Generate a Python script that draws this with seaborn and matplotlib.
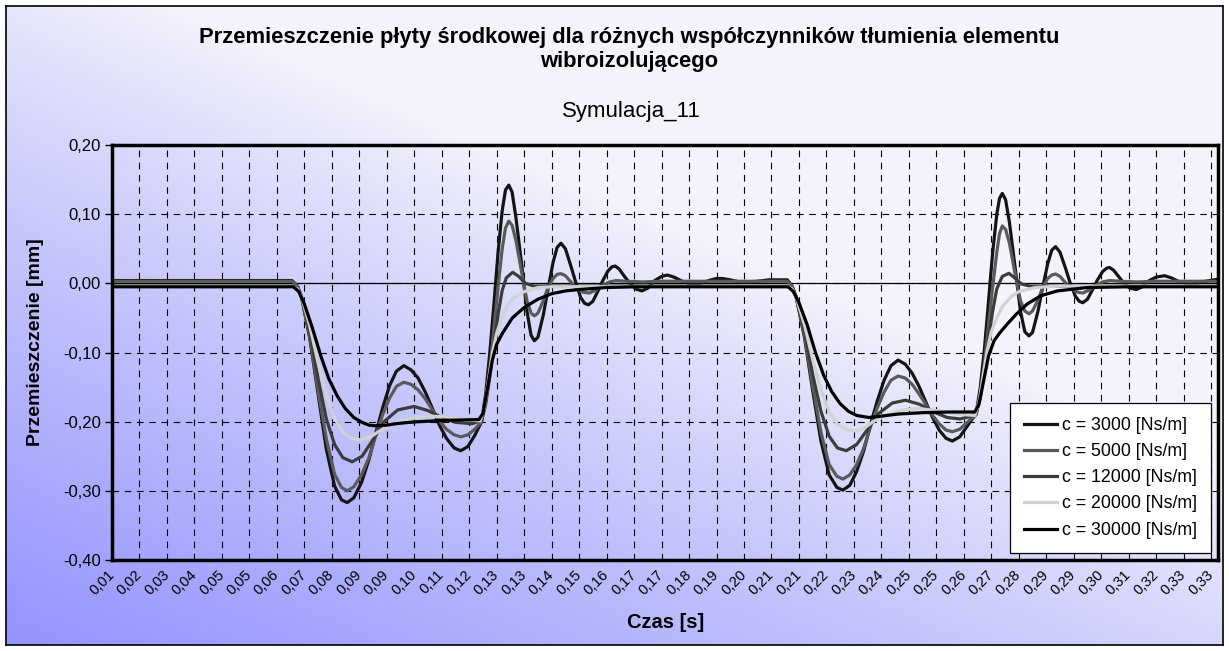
import numpy as np
import pandas as pd
import seaborn as sns
import matplotlib
import matplotlib.pyplot as plt
import matplotlib.transforms as mtransforms

# ------------------------------------------------------------------
# dane (x = pozycja na osi kategorii, y = mm)
# ------------------------------------------------------------------
x_labels = ['0,01', '0,02', '0,03', '0,04', '0,05', '0,05', '0,06', '0,07', '0,08', '0,09',
            '0,09', '0,10', '0,11', '0,12', '0,13', '0,13', '0,14', '0,15', '0,16', '0,17',
            '0,17', '0,18', '0,19', '0,20', '0,21', '0,21', '0,22', '0,23', '0,24', '0,25',
            '0,25', '0,26', '0,27', '0,28', '0,29', '0,29', '0,30', '0,31', '0,32', '0,33', '0,33']

series_names = ['c = 3000 [Ns/m]', 'c = 5000 [Ns/m]', 'c = 12000 [Ns/m]',
                'c = 20000 [Ns/m]', 'c = 30000 [Ns/m]']
series_colors = ['#141414', '#5a5a5a', '#3c3c3c', '#d2d2d2', '#000000']

c3000 = [(0, 0.004), (6.55, 0.004), (6.75, -0.004), (6.9, -0.02), (7.2, -0.08), (7.5, -0.16),
         (7.8, -0.24), (8.1, -0.293), (8.35, -0.313), (8.56, -0.317), (8.8, -0.310), (9.08, -0.288),
         (9.35, -0.255), (9.59, -0.218), (9.85, -0.180), (10.1, -0.148), (10.35, -0.127),
         (10.62, -0.119), (10.88, -0.125), (11.14, -0.137), (11.4, -0.157), (11.65, -0.180),
         (11.9, -0.204), (12.17, -0.224), (12.45, -0.238), (12.69, -0.242), (12.95, -0.236),
         (13.2, -0.220), (13.45, -0.200), (13.6, -0.160), (13.75, -0.100), (13.9, -0.030),
         (14.05, 0.045), (14.2, 0.105), (14.32, 0.135), (14.44, 0.142), (14.56, 0.132),
         (14.7, 0.095), (14.9, 0.030), (15.1, -0.040), (15.25, -0.075), (15.37, -0.083),
         (15.5, -0.078), (15.7, -0.045), (15.85, -0.012), (16.05, 0.030), (16.2, 0.052),
         (16.34, 0.058), (16.5, 0.050), (16.7, 0.025), (16.85, 0.005), (17.05, -0.020),
         (17.2, -0.029), (17.34, -0.031), (17.5, -0.026), (17.7, -0.010), (17.85, 0.003),
         (18.05, 0.018), (18.2, 0.024), (18.31, 0.025), (18.45, 0.021), (18.65, 0.010),
         (18.85, 0.000), (19.05, -0.008), (19.28, -0.011), (19.5, -0.007), (19.75, 0.004),
         (20.0, 0.010), (20.21, 0.012), (20.45, 0.009), (20.75, 0.003), (21.0, 0.000),
         (21.24, -0.001), (21.5, 0.001), (21.8, 0.005), (22.0, 0.007), (22.21, 0.007),
         (22.5, 0.005), (22.85, 0.002), (23.18, 0.0015), (23.5, 0.003), (23.9, 0.005),
         (24.58, 0.005), (24.75, -0.004), (24.9, -0.02), (25.2, -0.078), (25.5, -0.155),
         (25.8, -0.228), (26.1, -0.277), (26.38, -0.295), (26.6, -0.299), (26.85, -0.292),
         (27.1, -0.272), (27.35, -0.243), (27.6, -0.205), (27.85, -0.170), (28.1, -0.140),
         (28.35, -0.119), (28.61, -0.111), (28.87, -0.117), (29.12, -0.130), (29.37, -0.149),
         (29.6, -0.170), (29.85, -0.193), (30.1, -0.212), (30.35, -0.224), (30.58, -0.228),
         (30.85, -0.222), (31.15, -0.205), (31.45, -0.188), (31.6, -0.150), (31.75, -0.095),
         (31.9, -0.025), (32.05, 0.045), (32.2, 0.100), (32.3, 0.123), (32.4, 0.130),
         (32.52, 0.121), (32.66, 0.088), (32.86, 0.025), (33.06, -0.040), (33.22, -0.070),
         (33.37, -0.076), (33.5, -0.071), (33.7, -0.040), (33.85, -0.010), (34.05, 0.028),
         (34.2, 0.048), (34.34, 0.053), (34.5, 0.045), (34.7, 0.022), (34.85, 0.003),
         (35.05, -0.018), (35.2, -0.026), (35.33, -0.028), (35.5, -0.023), (35.7, -0.008),
         (35.85, 0.004), (36.05, 0.017), (36.2, 0.022), (36.3, 0.023), (36.45, 0.019),
         (36.65, 0.009), (36.85, -0.001), (37.05, -0.007), (37.27, -0.009), (37.5, -0.005),
         (37.75, 0.004), (38.0, 0.009), (38.3, 0.011), (38.55, 0.008), (38.85, 0.002),
         (39.2, -0.001), (39.5, 0.000), (39.8, 0.003), (40.25, 0.006)]

c5000 = [(0, 0.003), (6.55, 0.003), (6.75, -0.004), (6.9, -0.02), (7.2, -0.078), (7.5, -0.155),
         (7.8, -0.225), (8.1, -0.276), (8.35, -0.295), (8.56, -0.300), (8.8, -0.294), (9.08, -0.277),
         (9.35, -0.252), (9.59, -0.2215), (9.85, -0.190), (10.1, -0.166), (10.35, -0.149),
         (10.62, -0.143), (10.88, -0.146), (11.14, -0.154), (11.4, -0.167), (11.65, -0.1825),
         (11.9, -0.198), (12.17, -0.211), (12.45, -0.219), (12.69, -0.222), (12.95, -0.219),
         (13.2, -0.211), (13.45, -0.200), (13.6, -0.170), (13.75, -0.125), (13.9, -0.065),
         (14.05, -0.005), (14.2, 0.050), (14.32, 0.080), (14.44, 0.090), (14.56, 0.084),
         (14.7, 0.062), (14.9, 0.018), (15.1, -0.025), (15.25, -0.043), (15.37, -0.047),
         (15.5, -0.043), (15.7, -0.025), (15.85, -0.008), (16.05, 0.007), (16.2, 0.013),
         (16.34, 0.014), (16.5, 0.011), (16.7, 0.002), (16.9, -0.007), (17.15, -0.013),
         (17.37, -0.014), (17.6, -0.010), (17.85, -0.003), (18.1, 0.002), (18.35, 0.004),
         (18.7, 0.003), (19.3, 0.002), (20.0, 0.003), (24.58, 0.003), (24.75, -0.004),
         (24.9, -0.02), (25.2, -0.075), (25.5, -0.148), (25.8, -0.215), (26.1, -0.262),
         (26.38, -0.279), (26.6, -0.283), (26.85, -0.277), (27.1, -0.262), (27.35, -0.239),
         (27.6, -0.208), (27.85, -0.180), (28.1, -0.157), (28.35, -0.140), (28.61, -0.134),
         (28.87, -0.137), (29.12, -0.146), (29.37, -0.160), (29.6, -0.174), (29.85, -0.190),
         (30.1, -0.203), (30.35, -0.212), (30.58, -0.2145), (30.85, -0.211), (31.15, -0.200),
         (31.45, -0.190), (31.6, -0.160), (31.75, -0.115), (31.9, -0.060), (32.05, -0.005),
         (32.2, 0.045), (32.3, 0.072), (32.4, 0.083), (32.52, 0.078), (32.66, 0.058),
         (32.86, 0.015), (33.06, -0.025), (33.22, -0.040), (33.37, -0.044), (33.5, -0.040),
         (33.7, -0.024), (33.85, -0.008), (34.05, 0.007), (34.2, 0.012), (34.34, 0.0135),
         (34.5, 0.010), (34.7, 0.001), (34.9, -0.008), (35.15, -0.013), (35.33, -0.014),
         (35.55, -0.010), (35.8, -0.003), (36.05, 0.002), (36.3, 0.004), (36.7, 0.003),
         (37.3, 0.002), (38.0, 0.003), (40.25, 0.003)]

c12000 = [(0, -0.003), (6.55, -0.003), (6.75, -0.008), (6.9, -0.02), (7.2, -0.07), (7.5, -0.138),
          (7.8, -0.196), (8.1, -0.233), (8.4, -0.252), (8.74, -0.258), (9.1, -0.250), (9.5, -0.226),
          (9.9, -0.200), (10.4, -0.183), (10.99, -0.178), (11.5, -0.184), (12.0, -0.194),
          (12.5, -0.201), (13.11, -0.203), (13.45, -0.198), (13.6, -0.175), (13.75, -0.135),
          (13.9, -0.090), (14.05, -0.045), (14.2, -0.010), (14.35, 0.008), (14.58, 0.016),
          (14.8, 0.010), (15.05, 0.000), (15.35, -0.004), (15.8, -0.004), (24.58, -0.004),
          (24.75, -0.008), (24.9, -0.02), (25.2, -0.068), (25.5, -0.132), (25.8, -0.185),
          (26.1, -0.221), (26.4, -0.238), (26.72, -0.242), (27.1, -0.233), (27.5, -0.211),
          (27.9, -0.188), (28.4, -0.173), (28.88, -0.169), (29.4, -0.175), (29.9, -0.186),
          (30.4, -0.194), (30.85, -0.196), (31.2, -0.193), (31.45, -0.188), (31.6, -0.165),
          (31.75, -0.125), (31.9, -0.080), (32.05, -0.040), (32.2, -0.008), (32.4, 0.010),
          (32.64, 0.0145), (32.85, 0.008), (33.1, -0.001), (33.4, -0.004), (33.9, -0.004),
          (40.25, -0.004)]

c20000 = [(0, -0.004), (6.55, -0.004), (6.75, -0.008), (6.9, -0.02), (7.2, -0.062), (7.5, -0.115),
          (7.8, -0.160), (8.1, -0.195), (8.4, -0.215), (8.7, -0.224), (9.04, -0.2265), (9.4, -0.222),
          (9.8, -0.212), (10.3, -0.202), (10.9, -0.195), (11.5, -0.192), (12.1, -0.193),
          (12.8, -0.197), (13.4, -0.199), (13.55, -0.180), (13.7, -0.140), (13.85, -0.100),
          (14.0, -0.072), (14.2, -0.048), (14.4, -0.032), (14.6, -0.021), (15.0, -0.012),
          (15.5, -0.006), (16.0, -0.005), (24.58, -0.004), (24.75, -0.008), (24.9, -0.02),
          (25.2, -0.06), (25.5, -0.11), (25.8, -0.153), (26.1, -0.186), (26.4, -0.204),
          (26.7, -0.211), (27.0, -0.2135), (27.35, -0.210), (27.7, -0.200), (28.2, -0.190),
          (28.8, -0.183), (29.36, -0.181), (30.0, -0.184), (30.7, -0.189), (31.4, -0.191),
          (31.55, -0.172), (31.7, -0.135), (31.85, -0.097), (32.0, -0.070), (32.2, -0.050),
          (32.4, -0.034), (32.7, -0.020), (33.0, -0.012), (33.6, -0.006), (34.5, -0.004),
          (40.25, -0.004)]

c30000 = [(0, -0.005), (6.6, -0.005), (6.8, -0.012), (7.0, -0.03), (7.28, -0.063), (7.6, -0.105),
          (7.89, -0.138), (8.2, -0.163), (8.49, -0.181), (8.8, -0.194), (9.1, -0.201), (9.35, -0.205),
          (9.59, -0.206), (10.0, -0.205), (10.32, -0.203), (10.8, -0.201), (11.17, -0.200),
          (12.14, -0.198), (13.35, -0.197), (13.5, -0.188), (13.65, -0.155), (13.84, -0.111),
          (14.0, -0.088), (14.21, -0.072), (14.57, -0.050), (15.0, -0.035), (15.5, -0.023),
          (16.0, -0.015), (16.5, -0.011), (17.0, -0.009), (18.0, -0.006), (19.0, -0.005),
          (24.6, -0.005), (24.8, -0.012), (25.0, -0.028), (25.3, -0.06), (25.6, -0.10),
          (25.9, -0.133), (26.2, -0.157), (26.5, -0.174), (26.8, -0.185), (27.1, -0.191),
          (27.54, -0.194), (28.0, -0.192), (28.6, -0.189), (29.5, -0.187), (30.5, -0.186),
          (31.4, -0.186), (31.55, -0.175), (31.7, -0.145), (31.9, -0.105), (32.1, -0.083),
          (32.3, -0.072), (32.6, -0.058), (32.9, -0.045), (33.3, -0.030), (33.8, -0.018),
          (34.4, -0.011), (35.5, -0.006), (37.0, -0.005), (40.25, -0.005)]

y_ticks = [-0.40, -0.30, -0.20, -0.10, 0.00, 0.10, 0.20]

# ------------------------------------------------------------------
frames = []
for name, pts in zip(series_names, [c3000, c5000, c12000, c20000, c30000]):
    xs, ys = zip(*pts)
    frames.append(pd.DataFrame({'krok': xs, 'przem': ys, 'seria': name}))
df = pd.concat(frames, ignore_index=True)

plt.rcParams['font.family'] = ['Liberation Sans', 'DejaVu Sans']

W, H = 1229, 651
fig = plt.figure(figsize=(W / 100, H / 100), dpi=100)
fig.patch.set_facecolor('white')

# tlo - gradient jak w Excelu
bg = fig.add_axes([6 / W, 6 / H, (W - 12) / W, (H - 12) / H], zorder=-5)
gu, gw = np.meshgrid(np.linspace(0, 1, 400), np.linspace(0, 1, 220))
s = np.clip(1 - 0.75 * gu - 0.9 * gw, 0, 1) ** 0.85
light = np.array([0.955, 0.955, 0.985])
blue = np.array([0.58, 0.58, 1.0])
img = light[None, None, :] + s[:, :, None] * (blue - light)[None, None, :]
bg.imshow(img, aspect='auto', origin='lower', extent=[0, 1, 0, 1])
bg.set_xticks([])
bg.set_yticks([])
for sp in bg.spines.values():
    sp.set_linewidth(1.2)
    sp.set_color('black')

ax = fig.add_axes([112 / W, 1 - 560 / H, 1106 / W, 415 / H])
ax.set_facecolor('none')

sns.lineplot(data=df, x='krok', y='przem', hue='seria', hue_order=series_names,
             palette=series_colors, estimator=None, sort=False, linewidth=2.3,
             legend=False, ax=ax)
handles = list(ax.lines[:5])

ax.axhline(0, color='black', linewidth=0.9, zorder=1)
ax.set_xlim(0, 40.25)
ax.set_ylim(-0.4, 0.2)

ax.set_xticks(range(len(x_labels)))
ax.set_xticklabels(x_labels, rotation=45, ha='right', va='center',
                   rotation_mode='anchor', fontsize=10.5)
off = mtransforms.ScaledTranslation(7 / 100, 0, fig.dpi_scale_trans)
for lab in ax.get_xticklabels():
    lab.set_transform(lab.get_transform() + off)
ax.tick_params(axis='x', length=0, pad=9)

ax.set_yticks(y_ticks)
ax.set_yticklabels([('%.2f' % v).replace('.', ',') for v in y_ticks], fontsize=12)
ax.tick_params(axis='y', direction='out', length=5, width=1, pad=3)

ax.grid(True, color='black', linestyle=(0, (6, 5)), linewidth=0.8)
ax.set_axisbelow(True)
for sp in ax.spines.values():
    sp.set_linewidth(2.5)
    sp.set_color('black')

ax.set_xlabel('')
ax.set_ylabel('')

leg = ax.legend(handles, series_names, loc='lower right', bbox_to_anchor=(0.994, 0.017),
                fontsize=12.8, frameon=True, fancybox=False, framealpha=1,
                edgecolor='black', labelspacing=0.52, handlelength=1.85,
                handletextpad=0.28, borderpad=0.8, borderaxespad=0)
leg.get_frame().set_linewidth(0.9)

fig.text(0.512, 1 - 37 / H, 'Przemieszczenie płyty środkowej dla różnych współczynników tłumienia elementu',
         ha='center', va='center', fontsize=15.8, fontweight='bold')
fig.text(0.512, 1 - 62 / H, 'wibroizolującego', ha='center', va='center',
         fontsize=15.8, fontweight='bold')
fig.text(0.514, 1 - 112 / H, 'Symulacja_11', ha='center', va='center', fontsize=16)
fig.text(0.5415, 1 - 623 / H, 'Czas [s]', ha='center', va='center',
         fontsize=14.5, fontweight='bold')
fig.text(36 / W, 1 - 342 / H, 'Przemieszczenie [mm]', ha='center', va='center',
         rotation=90, fontsize=14, fontweight='bold')

fig.savefig('out.png', dpi=100)
